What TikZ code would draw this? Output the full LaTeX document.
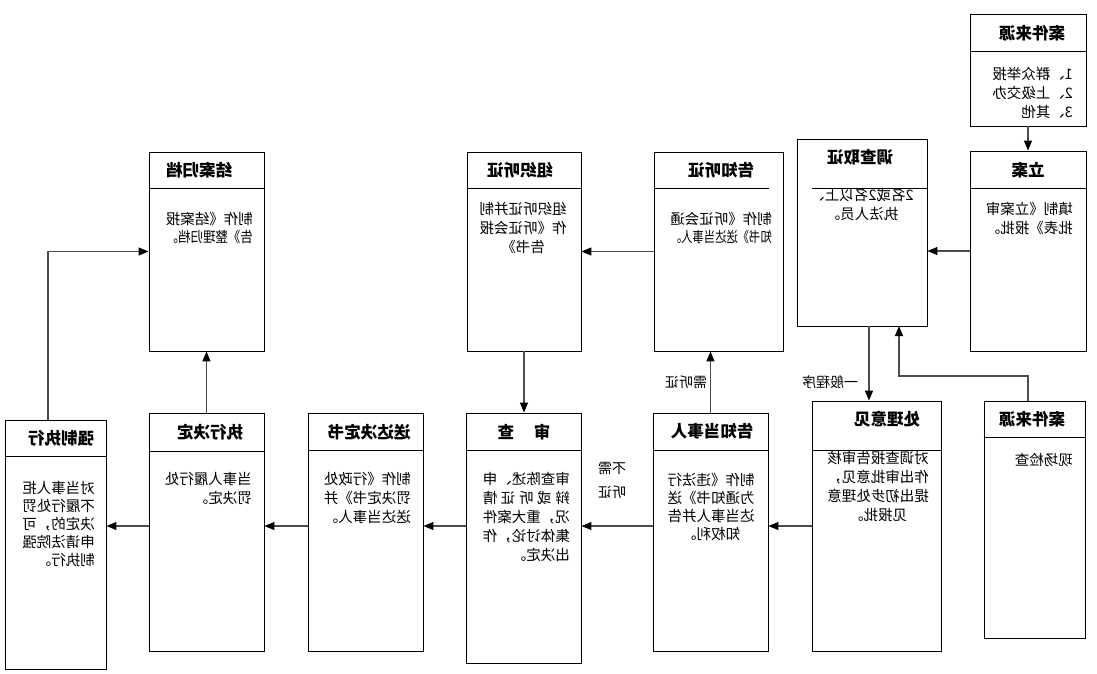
\documentclass[tikz,border=0pt]{standalone}
\usepackage{fontspec}
\usepackage{graphicx}
\setmainfont{Noto Sans CJK SC}
\usetikzlibrary{arrows.meta}
\newcommand\mt[1]{\reflectbox{#1}}
\newcommand\mtab[2]{\reflectbox{\begin{tabular}{@{}#1@{}}#2\end{tabular}}}
\tikzset{
  box/.style={draw, line width=0.9pt, inner sep=0pt},
  sepline/.style={line width=0.9pt},
  ttl/.style={font=\fontsize{16.5}{20}\selectfont\bfseries, inner sep=0pt},
  txt/.style={font=\fontsize{14.5}{19}\selectfont, inner sep=0pt},
  lbl/.style={font=\fontsize{14}{18}\selectfont, inner sep=0pt},
  conn/.style={draw=black!70, line width=1.2pt, -{Triangle[length=10pt,width=8pt,color=black]}},
}
\begin{document}
\begin{tikzpicture}[x=1pt,y=-1pt]
  \useasboundingbox (0,0) rectangle (1097,673);
  \node[box, minimum width=116pt, minimum height=112pt] (src) at (1028,70) {};
  \node[box, minimum width=116pt, minimum height=200pt] (lian) at (1028,251) {};
  \node[box, minimum width=130pt, minimum height=187pt] (dc) at (862,232.5) {};
  \node[box, minimum width=129pt, minimum height=250pt] (cl) at (876.5,526) {};
  \node[box, minimum width=101pt, minimum height=237pt] (src2) at (1034.5,519.5) {};
  \node[box, minimum width=115pt, minimum height=238pt] (gzd) at (710.5,532) {};
  \node[box, minimum width=129pt, minimum height=199pt] (gzt) at (718.5,251.5) {};
  \node[box, minimum width=114pt, minimum height=199pt] (zz) at (524,251.5) {};
  \node[box, minimum width=115pt, minimum height=199pt] (ja) at (206.5,251.5) {};
  \node[box, minimum width=115pt, minimum height=250pt] (sc) at (523.5,538) {};
  \node[box, minimum width=115pt, minimum height=238pt] (sd) at (365.5,532) {};
  \node[box, minimum width=115pt, minimum height=238pt] (zx) at (206.5,532) {};
  \node[box, minimum width=101pt, minimum height=249pt] (qz) at (55.5,544.5) {};

  \foreach \n/\d in {src/38, lian/38, cl/50, src2/37, gzd/38, zz/37, ja/37, sc/38, sd/38, zx/39, qz/37}
    \draw[sepline] ([yshift=-\d pt]\n.north west) -- ([yshift=-\d pt]\n.north east);
  \draw[sepline] ([xshift=15pt,yshift=-50pt]dc.north west) -- ([yshift=-50pt]dc.north east);
  \draw[sepline] ([yshift=-37pt]gzt.north west) -- ([xshift=-14pt,yshift=-37pt]gzt.north east);

  \node[ttl] (srct) at (1032,33) {\mt{案件来源}};
  \node[ttl] (liant) at (1028,170) {\mt{立案}};
  \node[ttl] (dct) at (860,157) {\mt{调查取证}};
  \node[ttl] (clt) at (887,419) {\mt{处理意见}};
  \node[ttl] (src2t) at (1032,419) {\mt{案件来源}};
  \node[ttl] (gzdt) at (712,431) {\mt{告知当事人}};
  \node[ttl] (gztt) at (721,170) {\mt{告知听证}};
  \node[ttl] (zzt) at (520,170) {\mt{组织听证}};
  \node[ttl] (jat) at (199,170) {\mt{结案归档}};
  \node[ttl] (sct) at (524,432) {\mt{审\hspace{1.2em}查}};
  \node[ttl] (sdt) at (369,432) {\mt{送达决定书}};
  \node[ttl] (zxt) at (210,432) {\mt{执行决定}};
  \node[ttl] (qzt) at (61,438) {\mt{强制执行}};

  \node[txt, anchor=north east] (srcb) at (1073,66) {\mtab{l}{1、群众举报\\2、上级交办\\3、其他}};
  \node[txt, anchor=north east] (lianb) at (1073,201) {\mtab{l}{填制《立案审\\批表》报批。}};
  \node[txt, anchor=north] (dcb) at (862,187) {\mtab{c}{2名或2名以上、\\执法人员。}};
  \node[txt, anchor=north] (clb) at (878,450) {\mtab{c}{对调查报告审核\\作出审批意见，\\提出初步处理意\\见报批。}};
  \node[txt, anchor=north east] (src2b) at (1073,452) {\mtab{l}{现场检查}};
  \node[txt, anchor=north] (gzdb) at (711,472) {\mtab{c}{制作《违法行\\[-1pt]为通知书》送\\[-1pt]达当事人并告\\[-1pt]知权利。}};
  \node[txt, anchor=north east] (gztb) at (772,211) {\mtab{l}{制作《听证会通\\[-1pt]\scalebox{0.78}[1]{知书》送达当事人。}}};
  \node[txt, anchor=north] (zzb) at (523,201) {\mtab{c}{组织听证并制\\作《听证会报\\告书》}};
  \node[txt, anchor=north east] (jab) at (253,211) {\mtab{l}{制作《结案报\\[-1pt]\scalebox{0.857}[1]{告》整理归档。}}};
  \node[txt, anchor=north east] (scb) at (570,471) {\mtab{l}{审查陈述、申\\\makebox[6em][s]{辩\hfill 或\hfill 听\hfill 证\hfill 情}\\况，重大案件\\集体讨论，作\\出决定。}};
  \node[txt, anchor=north east] (sdb) at (411,471) {\mtab{l}{制作《行政处\\罚决定书》并\\送达当事人。}};
  \node[txt, anchor=north east] (zxb) at (252,471) {\mtab{l}{当事人履行处\\罚决定。}};
  \node[txt, anchor=north east] (qzb) at (95,480) {\mtab{l}{对当事人拒\\[-1pt]不履行处罚\\[-1pt]决定的，可\\[-1pt]申请法院强\\[-1pt]制执行。}};

  \node[lbl] (lgen) at (830,382) {\mt{一般程序}};
  \node[lbl] (lneed) at (686,382) {\mt{需听证}};
  \node[lbl] (lno) at (612,482) {\mtab{l}{不需\\[6pt]听证}};

  \coordinate (row) at (0,526);
  \coordinate (dcout) at (869,326);
  \coordinate (dcin) at (899,326);
  \coordinate (s2out) at (1028,401);
  \coordinate (qzout) at (48,420);

  \draw[conn] (src.south) -- (lian.north);
  \draw[conn] (lian.west) -- (lian.west -| dc.east);
  \draw[conn] (dcout) -- (dcout |- cl.north);
  \draw[conn] (s2out) -- ++(0,-25) -| (dcin);
  \draw[conn] (cl.west |- row) -- (gzd.east |- row);
  \draw[conn] (gzd.north) -- (gzd.north |- gzt.south);
  \draw[conn] (gzt.west) -- (gzt.west -| zz.east);
  \draw[conn] (zz.south) -- (zz.south |- sc.north);
  \draw[conn] (gzd.west |- row) -- (sc.east |- row);
  \draw[conn] (sc.west |- row) -- (sd.east |- row);
  \draw[conn] (sd.west |- row) -- (zx.east |- row);
  \draw[conn] (zx.west |- row) -- (qz.east |- row);
  \draw[conn] (zx.north) -- (zx.north |- ja.south);
  \draw[conn] (qzout) |- (ja.west);
\end{tikzpicture}
\end{document}
